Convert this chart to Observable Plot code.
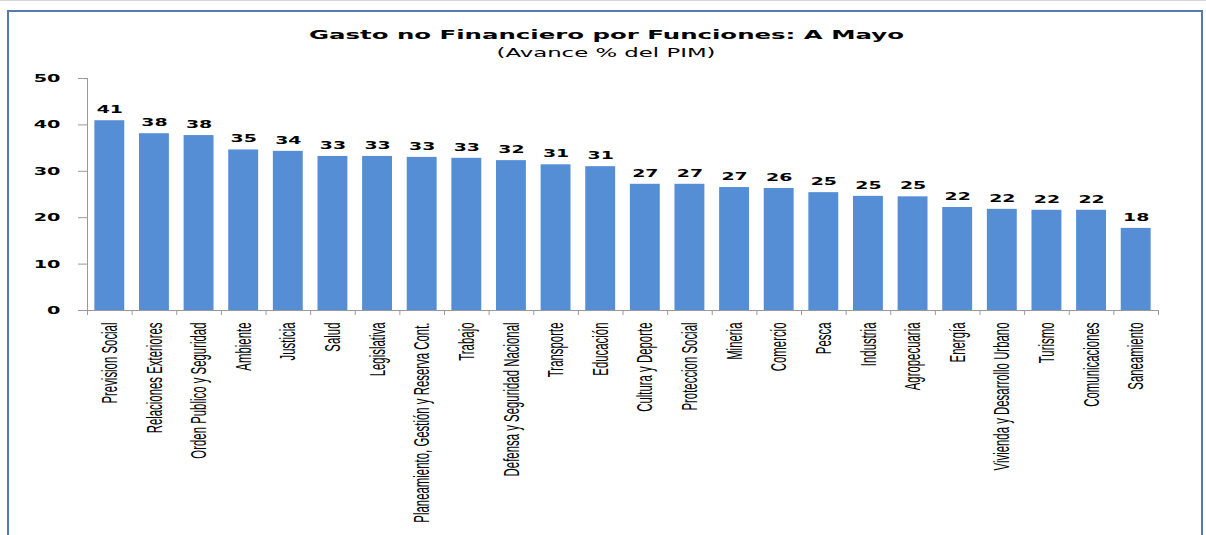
<!DOCTYPE html>
<html><head><meta charset="utf-8">
<script src="https://cdn.jsdelivr.net/npm/d3@7"></script>
<script src="https://cdn.jsdelivr.net/npm/@observablehq/plot@0.6"></script>
<style>
html,body{margin:0;padding:0;background:#fff;}
body{width:1206px;height:535px;position:relative;overflow:hidden;font-family:"DejaVu Sans",sans-serif;color:#000;}
#topline{position:absolute;left:0;top:0;width:1206px;height:1px;background:#d4d4d4;}
#frame{position:absolute;left:7px;top:10px;width:1196px;height:600px;border:2px solid #5479b2;box-sizing:border-box;}
.t{position:absolute;left:3px;width:1206px;text-align:center;white-space:nowrap;}
.t span{display:inline-block;transform-origin:center;}
#title{top:28px;font-weight:bold;font-size:13px;line-height:13px;}
#subtitle{top:47px;font-size:12.5px;line-height:12.5px;}
#chart{position:absolute;left:0;top:60px;}
</style>
</head><body>
<div id="topline"></div>
<div id="frame"></div>
<div class="t" id="title"><span>Gasto no Financiero por Funciones: A Mayo</span></div>
<div class="t" id="subtitle"><span>(Avance % del PIM)</span></div>
<div id="chart"></div>
<script>
const categories = ["Prevision Social","Relaciones Exteriores","Orden Publico y Seguridad","Ambiente","Justicia","Salud","Legislativa","Planeamiento, Gestión y Reserva Cont.","Trabajo","Defensa y Seguridad Nacional","Transporte","Educación","Cultura y Deporte","Proteccion Social","Mineria","Comercio","Pesca","Industria","Agropecuaria","Energía","Vivienda y Desarrollo Urbano","Turismo","Comunicaciones","Saneamiento"];
const values = [40.9, 38.1, 37.7, 34.6, 34.3, 33.2, 33.2, 33.0, 32.8, 32.3, 31.4, 31.0, 27.2, 27.2, 26.5, 26.3, 25.4, 24.6, 24.5, 22.2, 21.8, 21.6, 21.6, 17.7];
const yTicks = [0, 10, 20, 30, 40, 50];
const titleText = "Gasto no Financiero por Funciones: A Mayo";
const subtitleText = "(Avance % del PIM)";

// stretch title texts horizontally like the reference
function stretch(sel, target){
  const s = document.querySelector(sel);
  const w = s.getBoundingClientRect().width;
  s.style.transform = `scaleX(${target / w})`;
}
stretch("#title span", 595);
stretch("#subtitle span", 219);

const data = categories.map((name, i) => ({name, i, value: values[i]}));
const gray = "#9a9a9a";

const chart = Plot.plot({
  width: 1206, height: 475,
  marginTop: 18, marginBottom: 225, marginLeft: 87, marginRight: 48,
  x: {domain: [0, categories.length], axis: null},
  y: {domain: [0, 50], axis: null},
  style: {background: "transparent", color: "#000"},
  marks: [
    Plot.rectY(data, {x1: d => d.i + 0.165, x2: d => d.i + 0.835, y: "value", fill: "#558ed5"}),
    Plot.ruleX([0], {stroke: gray}),
    Plot.ruleY([0], {stroke: gray}),
    Plot.axisY({ticks: yTicks, label: null, tickSize: 9, tickPadding: 18, tickFormat: d => String(d), fontSize: 11, fontWeight: "bold", fontFamily: "DejaVu Sans"}),
    Plot.axisX({ticks: d3.range(categories.length + 1), label: null, tickSize: 5, tickFormat: () => ""}),
    Plot.text(data, {x: d => d.i + 0.5, y: "value", text: d => String(Math.round(d.value)), dy: -11, fontSize: 10.5, fontWeight: "bold", fontFamily: "DejaVu Sans", fill: "#000"}),
    Plot.text(data, {x: d => d.i + 0.5, y: 0, text: "name", rotate: -90, textAnchor: "end", dy: 12, fontSize: 11.4, fontFamily: "Liberation Sans", fill: "#000"})
  ]
});
document.getElementById("chart").appendChild(chart);

const svg = d3.select(chart);
svg.selectAll('g[aria-label="y-axis tick"] path, g[aria-label="x-axis tick"] path').attr("stroke", gray);
function appendScale(nodes, sc){
  nodes.forEach(node => {
    const t = node.getAttribute("transform") || "";
    node.setAttribute("transform", t + " " + sc);
  });
}
appendScale(svg.selectAll('g[aria-label="y-axis tick label"] text').nodes(), "scale(1.75,1)");
const textGroups = svg.selectAll('g[aria-label="text"]').nodes();
if (textGroups[0]) appendScale(Array.from(textGroups[0].querySelectorAll("text")), "scale(1.8,1)");
if (textGroups[1]) appendScale(Array.from(textGroups[1].querySelectorAll("text")), "scale(1,1.95)");
</script>
</body></html>
